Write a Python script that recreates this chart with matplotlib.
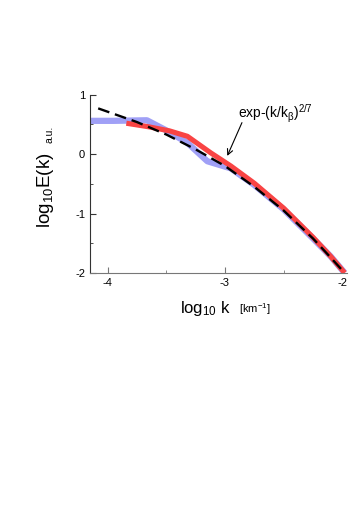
import matplotlib
matplotlib.use("Agg")
import matplotlib.pyplot as plt
from matplotlib.ticker import MultipleLocator

plt.rcParams['font.family'] = ['Liberation Sans', 'DejaVu Sans']
plt.rcParams['mathtext.default'] = 'regular'
plt.rcParams['axes.unicode_minus'] = False

# data (log10 k, log10 E)
blue_x = [-4.15, -3.95, -3.665, -3.5, -3.32, -3.15, -2.95, -2.75, -2.5, -2.25, -2.1, -1.98]
blue_y = [0.56, 0.56, 0.57, 0.40, 0.19, -0.12, -0.24, -0.52, -0.93, -1.42, -1.72, -2.0]

red_x = [-3.84, -3.65, -3.47, -3.32, -3.12, -2.95, -2.75, -2.5, -2.25, -2.1, -1.98]
red_y = [0.52, 0.46, 0.39, 0.30, 0.02, -0.2, -0.49, -0.91, -1.40, -1.72, -2.0]

fit_x = [-4.08, -3.75, -3.5, -3.25, -3.0, -2.75, -2.5, -2.25, -2.1, -1.98]
fit_y = [0.77, 0.54, 0.33, 0.08, -0.2, -0.55, -0.95, -1.42, -1.74, -2.0]

fig = plt.figure(figsize=(3.57, 5.12), dpi=100)
ax = fig.add_axes([0.252, 0.467, 0.72, 0.348])

ax.plot(blue_x, blue_y, color='#a0a0f6', lw=4.5, solid_capstyle='butt', zorder=1)
ax.plot(red_x, red_y, color='#f94444', lw=3.7, solid_capstyle='butt', zorder=2)
ax.plot(fit_x, fit_y, color='black', lw=1.7, dashes=(5, 2.5), zorder=3)

ax.text(-2.89, 0.675, 'exp-(k/k$_\\beta$)$^{2/7}$', fontsize=10, ha='left', va='center')
ax.annotate('', xy=(-2.98, -0.03), xytext=(-2.855, 0.53),
            arrowprops=dict(arrowstyle='->', color='black', lw=0.8, shrinkA=0, shrinkB=0))

ax.set_xlim(-4.15, -1.96)
ax.set_ylim(-2, 1)
ax.xaxis.set_major_locator(MultipleLocator(1))
ax.xaxis.set_minor_locator(MultipleLocator(0.5))
ax.yaxis.set_major_locator(MultipleLocator(1))
ax.yaxis.set_minor_locator(MultipleLocator(0.5))
ax.tick_params(which='both', direction='in', labelsize=8)
ax.tick_params(which='major', length=4)
ax.tick_params(which='minor', length=2.5)
ax.tick_params(axis='x', which='both', color='#777777')
ax.tick_params(axis='y', which='both', color='#333333')

for s in ['top', 'right']:
    ax.spines[s].set_visible(False)
ax.spines['left'].set_color('#333333')
ax.spines['bottom'].set_color('#777777')

# axis titles, main part plus smaller unit part
fig.text(180 / 357, 1 - 313 / 512, 'log$_{10}$ k', fontsize=12, ha='left', va='baseline')
fig.text(239 / 357, 1 - 313 / 512, '[km$^{-1}$]', fontsize=8, ha='left', va='baseline')
fig.text(45 / 357, 1 - 190 / 512, 'log$_{10}$E(k)', fontsize=13.5, rotation=90,
         ha='center', va='center')
fig.text(49 / 357, 1 - 134 / 512, 'a.u.', fontsize=7.5, rotation=90, ha='center', va='center')

fig.savefig('out.png', dpi=100)
